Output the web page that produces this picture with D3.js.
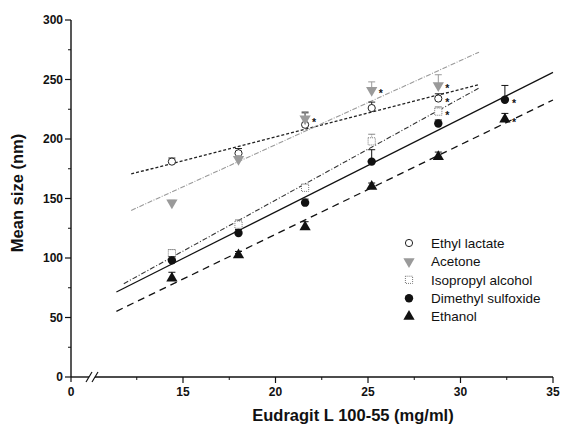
<!DOCTYPE html>
<html>
<head>
<meta charset="utf-8">
<script src="https://cdn.jsdelivr.net/npm/d3@7"></script>
<style>
  body { margin: 0; background: #fff; }
  svg { display: block; font-family: "Liberation Sans", Arial, sans-serif; }
  .tick-label { font-size: 12px; font-weight: bold; fill: #111; }
  .axis-title { font-size: 16.5px; font-weight: bold; fill: #111; }
  .legend text { font-size: 13.5px; fill: #111; }
</style>
</head>
<body>
<svg id="chart" width="561" height="427"></svg>
<script>
// concentrations (mg/ml)
const conc = [14.4, 18, 21.6, 25.2, 28.8, 32.4];

const ethylLactate    = [181, 188, 212, 226, 234];
const ethylLactateErr = [3, 4, 10, 5, 4];
const acetone         = [146.5, 183, 217, 241, 245];
const acetoneErr      = [2, 3, 6, 7, 9];
const isopropyl       = [104, 128, 159, 198, 223];
const isopropylErr    = [3, 4, 3, 6, 4];
const dmso            = [98, 121, 146.5, 181, 213, 233];
const dmsoErr         = [3, 3, 3, 10, 3, 12];
const ethanol         = [83, 102.5, 126, 160, 185, 216.5];
const ethanolErr      = [5, 3, 4.5, 3, 4, 5];

// significance marks (*), 1 = marked point
const ethylLactateStar = [0, 0, 0, 0, 1];
const acetoneStar      = [0, 0, 1, 1, 1];
const isopropylStar    = [0, 0, 0, 0, 1];
const dmsoStar         = [0, 0, 0, 0, 0, 1];
const ethanolStar      = [0, 0, 0, 0, 0, 1];

// fitted lines: [x0, y0, x1, y1]
const ethylLactateFit = [12.2, 170.6, 31, 245.8];
const acetoneFit      = [12.2, 140, 31, 273];
const isopropylFit    = [11.8, 78.4, 31, 242.8];
const dmsoFit         = [11.4, 71.5, 35, 256];
const ethanolFit      = [11.4, 55.2, 35, 232.8];

const xTicks = [15, 20, 25, 30, 35];
const xMinor = [12.5, 17.5, 22.5, 27.5, 32.5];
const yTicks = [0, 50, 100, 150, 200, 250, 300];
const yMinor = [25, 75, 125, 175, 225, 275];

const legendNames = ["Ethyl lactate", "Acetone", "Isopropyl alcohol", "Dimethyl sulfoxide", "Ethanol"];

const series = [
  { name: legendNames[0], y: ethylLactate, err: ethylLactateErr, star: ethylLactateStar, fit: ethylLactateFit,
    marker: "circleOpen", color: "#222", dash: "3,2", lw: 1.3 },
  { name: legendNames[1], y: acetone, err: acetoneErr, star: acetoneStar, fit: acetoneFit,
    marker: "triDown", color: "#9a9a9a", dash: "5,1.5,1,1.5", lw: 1.1 },
  { name: legendNames[2], y: isopropyl, err: isopropylErr, star: isopropylStar, fit: isopropylFit,
    marker: "squareDotted", color: "#333", dash: "5,2,1,2", lw: 1.1 },
  { name: legendNames[3], y: dmso, err: dmsoErr, star: dmsoStar, fit: dmsoFit,
    marker: "circleFill", color: "#111", dash: null, lw: 1.2 },
  { name: legendNames[4], y: ethanol, err: ethanolErr, star: ethanolStar, fit: ethanolFit,
    marker: "triUp", color: "#111", dash: "7,5", lw: 1.3 },
];

const svg = d3.select("#chart");
const axisY = 377, axisX = 71;
const x = d3.scaleLinear().domain([10, 35]).range([90.5, 553]);
const y = d3.scaleLinear().domain([0, 300]).range([axisY, 20]);

const g = svg.append("g");

/* ---------- axes ---------- */
// y axis
g.append("line").attr("x1", axisX).attr("x2", axisX).attr("y1", y(300)).attr("y2", axisY)
  .attr("stroke", "#111").attr("stroke-width", 1.4);
g.selectAll(".ytick").data(yTicks).join("line")
  .attr("x1", axisX - 6).attr("x2", axisX).attr("y1", d => y(d)).attr("y2", d => y(d))
  .attr("stroke", "#111").attr("stroke-width", 1.2);
g.selectAll(".yminor").data(yMinor).join("line")
  .attr("x1", axisX - 3).attr("x2", axisX).attr("y1", d => y(d)).attr("y2", d => y(d))
  .attr("stroke", "#111").attr("stroke-width", 1);
g.selectAll(".ylab").data(yTicks).join("text").attr("class", "tick-label")
  .attr("x", axisX - 8).attr("y", d => y(d)).attr("dy", "0.35em").attr("text-anchor", "end")
  .text(d => d);

// x axis with break between 0 and 10
const breakX = 92;
g.append("line").attr("x1", axisX).attr("x2", breakX - 3).attr("y1", axisY).attr("y2", axisY)
  .attr("stroke", "#111").attr("stroke-width", 1.4);
g.append("line").attr("x1", breakX + 3).attr("x2", x(35)).attr("y1", axisY).attr("y2", axisY)
  .attr("stroke", "#111").attr("stroke-width", 1.4);
[-3, 3].forEach(o => {
  g.append("line").attr("x1", breakX + o - 3).attr("x2", breakX + o + 3)
    .attr("y1", axisY + 5).attr("y2", axisY - 5).attr("stroke", "#111").attr("stroke-width", 1.2);
});
g.append("line").attr("x1", axisX).attr("x2", axisX).attr("y1", axisY).attr("y2", axisY + 5)
  .attr("stroke", "#111").attr("stroke-width", 1.2);
g.selectAll(".xtick").data(xTicks).join("line")
  .attr("x1", d => x(d)).attr("x2", d => x(d)).attr("y1", axisY).attr("y2", axisY + 6)
  .attr("stroke", "#111").attr("stroke-width", 1.2);
g.selectAll(".xminor").data(xMinor).join("line")
  .attr("x1", d => x(d)).attr("x2", d => x(d)).attr("y1", axisY).attr("y2", axisY + 3)
  .attr("stroke", "#111").attr("stroke-width", 1);
g.append("text").attr("class", "tick-label").attr("x", axisX).attr("y", 396)
  .attr("text-anchor", "middle").text("0");
g.selectAll(".xlab").data(xTicks).join("text").attr("class", "tick-label")
  .attr("x", d => x(d)).attr("y", 396).attr("text-anchor", "middle").text(d => d);

g.append("text").attr("class", "axis-title").attr("x", 353).attr("y", 421)
  .attr("text-anchor", "middle").text("Eudragit L 100-55 (mg/ml)");
g.append("text").attr("class", "axis-title")
  .attr("transform", `translate(23,193) rotate(-90)`)
  .attr("text-anchor", "middle").text("Mean size (nm)");

/* ---------- markers ---------- */
function drawMarker(sel, type, cx, cy, color) {
  if (type === "circleOpen") {
    sel.append("circle").attr("cx", cx).attr("cy", cy).attr("r", 3.6)
      .attr("fill", "#fff").attr("stroke", color).attr("stroke-width", 1);
  } else if (type === "circleFill") {
    sel.append("circle").attr("cx", cx).attr("cy", cy).attr("r", 4.2).attr("fill", color);
  } else if (type === "triDown") {
    sel.append("path").attr("transform", `translate(${cx},${cy}) rotate(180)`)
      .attr("d", d3.symbol(d3.symbolTriangle, 55)()).attr("fill", color);
  } else if (type === "triUp") {
    sel.append("path").attr("transform", `translate(${cx},${cy})`)
      .attr("d", d3.symbol(d3.symbolTriangle, 55)()).attr("fill", color);
  } else if (type === "squareDotted") {
    sel.append("rect").attr("x", cx - 3.6).attr("y", cy - 3.6).attr("width", 7.2).attr("height", 7.2)
      .attr("fill", "#fff").attr("stroke", "#777").attr("stroke-width", 1).attr("stroke-dasharray", "1,1");
  }
}

/* ---------- fitted lines ---------- */
const lineG = g.append("g");
series.forEach(s => {
  lineG.append("line")
    .attr("x1", x(s.fit[0])).attr("y1", y(s.fit[1]))
    .attr("x2", x(s.fit[2])).attr("y2", y(s.fit[3]))
    .attr("stroke", s.color).attr("stroke-width", s.lw)
    .attr("stroke-dasharray", s.dash);
});

/* ---------- points, error bars, stars ---------- */
const ptG = g.append("g");
series.forEach(s => {
  const errColor = s.marker === "squareDotted" ? "#888" : s.color;
  s.y.forEach((v, i) => {
    const cx = x(conc[i]), cy = y(v), top = y(v + s.err[i]);
    ptG.append("line").attr("x1", cx).attr("x2", cx).attr("y1", cy).attr("y2", top)
      .attr("stroke", errColor).attr("stroke-width", 1)
      .attr("stroke-dasharray", s.marker === "squareDotted" ? "1,1" : null);
    ptG.append("line").attr("x1", cx - 3.5).attr("x2", cx + 3.5).attr("y1", top).attr("y2", top)
      .attr("stroke", errColor).attr("stroke-width", 1);
    drawMarker(ptG, s.marker, cx, cy, s.color);
    if (s.star[i]) {
      ptG.append("text").attr("x", cx + 7).attr("y", cy + 7)
        .attr("font-size", 10.5).attr("font-weight", "bold").attr("fill", "#111").text("*");
    }
  });
});

/* ---------- legend ---------- */
const leg = g.append("g").attr("class", "legend");
series.forEach((s, i) => {
  const ly = 243 + i * 18.4;
  drawMarker(leg, s.marker, 409, ly, s.color);
  leg.append("text").attr("x", 431).attr("y", ly).attr("dy", "0.35em").text(s.name);
});
</script>
</body>
</html>
